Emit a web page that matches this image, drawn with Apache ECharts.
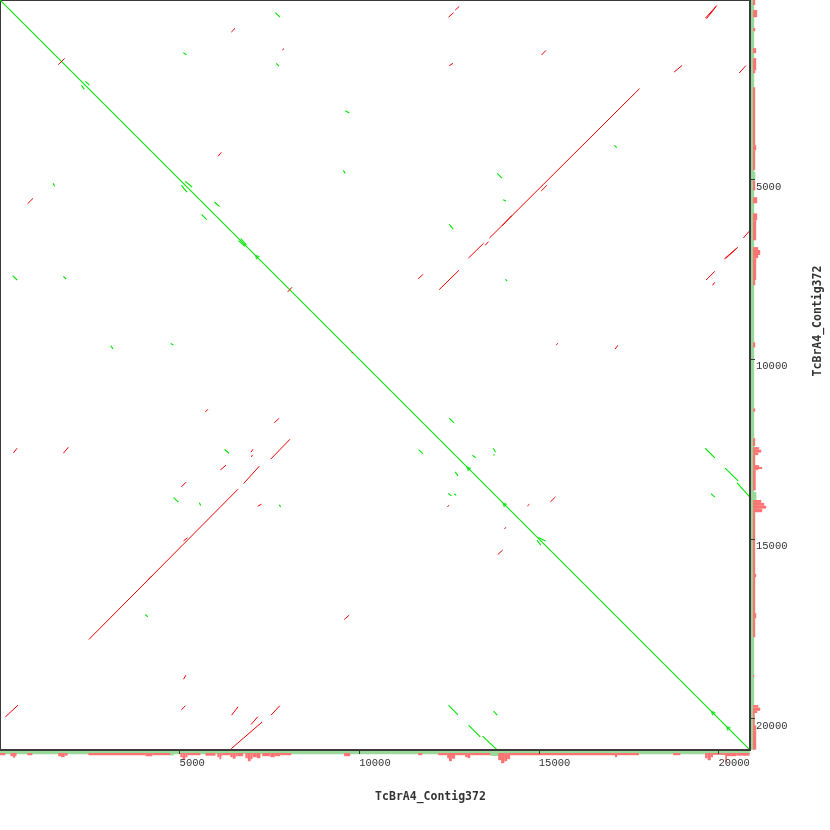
<!DOCTYPE html>
<html>
<head>
<meta charset="utf-8">
<script src="https://cdn.jsdelivr.net/npm/echarts@6/dist/echarts.min.js"></script>
<style>
html,body{margin:0;padding:0;background:#fff;}
#chart{width:830px;height:830px;}
</style>
</head>
<body>
<div id="chart"></div>
<script>
// ---- data (sequence coordinates, bp) ----
const seqName = 'TcBrA4_Contig372';
const seqLength = 20880;
const tickValues = [5000, 10000, 15000, 20000];

// forward matches [x1, y1, x2, y2]
const forwardSegments = [
  [0,0,20870,20870],
  [5104,1467,5188,1522],[1478,5104,1522,5188],
  [2377,2265,2488,2368],[2265,2377,2349,2488],
  [5160,5048,5346,5207],[5048,5160,5207,5346],
  [5967,5624,6114,5752],[5613,5967,5752,6114],
  [6640,6700,6820,6860],[6700,6640,6860,6820],
  [7664,353,7795,476],[353,7673,476,7795],
  [7692,1764,7767,1840],[1764,7692,1840,7767],
  [9613,3081,9724,3148],[3081,9621,3148,9715],
  [17099,4047,17174,4110],
  [9557,4742,9613,4826],[4751,9565,4826,9604],
  [13842,4826,13973,4957],
  [14010,5558,14085,5597],
  [12507,6245,12618,6376],
  [14074,7776,14121,7823],
  [6253,12515,6376,12618],
  [4834,13851,4965,13982],
  [5549,13999,5588,14074],
  [7773,14057,7815,14113],
  [12507,11644,12638,11775],[11653,12515,11775,12627],
  [13155,12674,13249,12749],[12674,13138,12749,13249],
  [13731,12479,13795,12582],[12479,13740,12571,13806],
  [12646,13751,12702,13787],[13740,12646,13759,12682],
  [14989,14964,15189,15059],[14950,15039,15056,15178],
  [19631,12479,19901,12749],
  [20188,13035,20550,13389],
  [20514,13434,20870,13834],
  [19798,13740,19901,13842],
  [12487,19631,12749,19901],
  [13044,20188,13369,20514],
  [13434,20494,13834,20870],
  [13740,19798,13842,19910],
  [4047,17108,4113,17174]
];

// reverse-complement matches [x1, y1, x2, y2]
const reverseSegments = [
  [6440,893,6543,790],
  [1625,1801,1801,1625],
  [6070,4353,6161,4241],
  [771,5669,921,5521],
  [12487,476,12627,353],
  [12674,281,12785,178],
  [19640,504,19958,150],[19670,520,19930,190],
  [7859,1394,7906,1355],
  [12507,1828,12609,1764],
  [15075,1533,15198,1403],
  [18768,2006,18991,1820],
  [20578,2034,20764,1828],
  [13628,6626,17803,2469],[13980,6290,14250,6000],
  [15067,5318,15225,5160],
  [13509,6829,13600,6726],
  [13044,7183,13462,6774],
  [12229,8062,12777,7525],
  [11644,7767,11775,7636],
  [20697,6626,20856,6440],
  [20168,7205,20541,6885],[20200,7200,20500,6920],
  [19659,7795,19901,7553],
  [19834,7943,19901,7859],
  [8007,8129,8129,7998],
  [9790,9830,9820,9800],
  [5716,11469,5791,11394],
  [7636,11775,7767,11644],
  [373,12609,476,12479],
  [1764,12618,1904,12451],
  [6988,12590,7044,12507],
  [6996,12721,7033,12665],
  [7534,12785,8073,12229],
  [6134,13083,6292,12952],
  [6782,13462,7219,12980],
  [5048,13556,5179,13425],
  [2474,17803,6626,13620],[4130,16130,4230,16030],
  [5110,15059,5215,14975],
  [7175,14093,7280,14038],
  [12459,14113,12498,14065],
  [14683,14085,14739,14038],
  [15323,13973,15465,13834],
  [14046,14725,14085,14678],
  [13859,15437,13993,15317],
  [15484,9604,15532,9557],
  [17127,9715,17202,9613],
  [9585,17246,9718,17127],
  [5110,18908,5176,18797],
  [150,19958,504,19631],
  [5048,19762,5160,19651],
  [6448,19910,6626,19679],
  [7545,19910,7790,19646],
  [6440,20842,7294,20104],[6990,20170,7180,19950]
];

// markers on the main diagonal (bp)
const diagonalMarks = [7136, 13027, 14029, 19830, 20251];

// coverage tracks [start, end, depth]
const bottomGreen = [
  [0,20870,2.8],[4730,4840,4],[12450,12530,4],[12530,12620,5],[12620,12670,4],
  [12950,13090,4],[13650,13870,4.5],[13870,13950,6],[13950,14120,7],[14120,14200,5],[19850,20190,3.5]
];
const bottomRed = [
  [0,150,3],[290,360,4],[360,420,5.5],[420,460,4],[760,900,3],[1620,1700,4],[1700,1800,5],[1800,1880,3.5],
  [2460,4050,3],[4050,4240,4],[4240,4740,3],[5020,5080,5],[5080,5160,8],[5160,5220,5],[5220,5580,3],
  [5720,6000,3.5],[6050,6110,5],[6110,6160,7],[6160,6190,4],[6190,6410,3],
  [6410,6480,5],[6480,6560,6.5],[6560,6610,4],[6610,6770,4],[6830,6900,6],[6900,6980,9],[6980,7030,7],
  [7030,7150,5],[7150,7250,6],[7300,7530,4],[7530,7650,5],[7650,7800,4],
  [7800,8110,3],[9580,9750,4],[11640,11760,3],[12200,12450,3],[12450,12500,6],[12500,12580,9],[12580,12670,6.5],
  [12670,12950,3],[12950,13020,5],[13020,13090,6],[13090,13650,3],[13870,13950,8],[13950,14040,11],
  [14040,14120,9],[14120,14200,7],[14200,17120,3],
  [17120,17180,5],[17180,17790,3],[18740,18940,3],[19630,19700,6],[19700,19790,8],[19790,19850,5],[19850,20190,2.5],
  [20190,20240,10],[20240,20500,4],[20500,20870,3.5]
];
const rightGreen = [
  [0,20870,2.8],[4790,5010,4],[12450,12670,5],[12950,13090,5],[13700,13920,5],
  [13920,14000,6],[14000,14200,7],[14200,14260,5.5]
];
const rightRed = [
  [0,140,3],[280,480,5],[780,870,3],[1340,1480,4],[1620,1960,4],[1960,2040,3],
  [2430,4040,3],[4040,4180,4],[4180,4740,3],[5020,5300,3],[5490,5660,5],[5940,6130,5],
  [6130,6690,4],[6880,6960,6],[6960,7100,8],[7100,7190,6],[7190,7800,4],[7800,7940,3],
  [9530,9670,3],[11370,11460,3],
  [12200,12420,3],[12450,12520,7],[12520,12600,9],[12600,12670,6],[12670,12950,3],
  [12950,13000,7],[13000,13060,10],[13060,13090,6],[13090,13650,3.5],
  [13920,14000,9],[14000,14080,12],[14080,14160,14],[14160,14260,10],[14260,17740,3],
  [15980,16070,4],[17070,17210,4],[18790,18850,2],
  [19630,19700,6],[19700,19790,8],[19790,19850,5],[19850,20190,2.5],[20190,20330,4],[20330,20870,4]
];

// ---- chart ----
const GREEN = '#00e600';
const RED = '#f00000';
const TRACK_GREEN = '#9ad89a';
const TRACK_RED = '#ff7373';
const AXIS = '#3a3a3a';
const labelFont = '"Liberation Mono","DejaVu Sans Mono",monospace';

function toLines(segs) {
  return segs.map(s => ({ coords: [[s[0], s[1]], [s[2], s[3]]] }));
}

// draws a run from depth d0 to (depth + extra) along the track
function trackRender(horizontal, d0, extra) {
  return function (params, api) {
    const s = api.value(0), e = api.value(1), d = api.value(2) + extra;
    let p0, p1;
    if (horizontal) { p0 = api.coord([s, d0]); p1 = api.coord([e, d]); }
    else { p0 = api.coord([d0, s]); p1 = api.coord([d, e]); }
    return {
      type: 'rect',
      shape: { x: Math.min(p0[0], p1[0]), y: Math.min(p0[1], p1[1]),
               width: Math.abs(p1[0] - p0[0]), height: Math.abs(p1[1] - p0[1]) },
      style: { fill: api.visual('color') }
    };
  };
}

const chart = echarts.init(document.getElementById('chart'), null, { renderer: 'canvas' });

const option = {
  animation: false,
  backgroundColor: '#fff',
  grid: [
    { left: 0, top: 0, width: 750, height: 750, show: true, borderColor: AXIS, borderWidth: 2, backgroundColor: '#fff' },
    { left: 0, top: 751, width: 750, height: 16 },
    { left: 751, top: 0, width: 16, height: 750 }
  ],
  xAxis: [
    { gridIndex: 0, type: 'value', min: 0, max: seqLength, interval: 5000, position: 'bottom', z: 10,
      axisLine: { show: true, onZero: false, lineStyle: { color: AXIS, width: 2 } },
      axisTick: { show: true, length: 4, lineStyle: { color: AXIS } },
      splitLine: { show: false },
      axisLabel: { show: true, showMinLabel: false, showMaxLabel: false, align: 'left', margin: 8,
        fontFamily: labelFont, fontSize: 10.5, color: '#333',
        formatter: v => tickValues.indexOf(v) >= 0 ? String(v) : '' } },
    { gridIndex: 1, type: 'value', min: 0, max: seqLength, show: false, axisLine: { onZero: false } },
    { gridIndex: 2, type: 'value', min: 0, max: 16, show: false, axisLine: { onZero: false } }
  ],
  yAxis: [
    { gridIndex: 0, type: 'value', min: 0, max: seqLength, interval: 5000, inverse: true, position: 'right', z: 10,
      axisLine: { show: true, onZero: false, lineStyle: { color: AXIS, width: 2 } },
      axisTick: { show: true, length: 5, lineStyle: { color: AXIS } },
      splitLine: { show: false },
      axisLabel: { show: true, showMinLabel: false, showMaxLabel: false, align: 'left', verticalAlign: 'top',
        margin: 6, padding: [2, 0, 0, 0], fontFamily: labelFont, fontSize: 10.5, color: '#333',
        formatter: v => tickValues.indexOf(v) >= 0 ? String(v) : '' } },
    { gridIndex: 1, type: 'value', min: 0, max: 16, inverse: true, show: false, axisLine: { onZero: false } },
    { gridIndex: 2, type: 'value', min: 0, max: seqLength, inverse: true, show: false, axisLine: { onZero: false } }
  ],
  series: [
    { type: 'custom', name: 'bottomGreen', xAxisIndex: 1, yAxisIndex: 1, silent: true, z: 1,
      itemStyle: { color: TRACK_GREEN }, renderItem: trackRender(true, 0, 0.4), data: bottomGreen, clip: false },
    { type: 'custom', name: 'bottomRed', xAxisIndex: 1, yAxisIndex: 1, silent: true, z: 1,
      itemStyle: { color: TRACK_RED }, renderItem: trackRender(true, 2, 1.2), data: bottomRed, clip: false },
    { type: 'custom', name: 'rightGreen', xAxisIndex: 2, yAxisIndex: 2, silent: true, z: 1,
      itemStyle: { color: TRACK_GREEN }, renderItem: trackRender(false, 0, 0.4), data: rightGreen, clip: false },
    { type: 'custom', name: 'rightRed', xAxisIndex: 2, yAxisIndex: 2, silent: true, z: 1,
      itemStyle: { color: TRACK_RED }, renderItem: trackRender(false, 2, 1.2), data: rightRed, clip: false },
    { type: 'lines', name: 'forward', coordinateSystem: 'cartesian2d', xAxisIndex: 0, yAxisIndex: 0,
      silent: true, polyline: false, lineStyle: { color: GREEN, width: 1.1, opacity: 1 },
      data: toLines(forwardSegments) },
    { type: 'lines', name: 'reverse', coordinateSystem: 'cartesian2d', xAxisIndex: 0, yAxisIndex: 0,
      silent: true, polyline: false, lineStyle: { color: RED, width: 1, opacity: 1 },
      data: toLines(reverseSegments) },
    { type: 'scatter', name: 'marks', xAxisIndex: 0, yAxisIndex: 0, silent: true,
      symbol: 'triangle', symbolSize: 5, symbolRotate: 45, itemStyle: { color: GREEN },
      data: diagonalMarks.map(v => [v, v]) }
  ],
  graphic: [
    { type: 'text', x: 430.5, y: 797, silent: true,
      style: { text: seqName, align: 'center', verticalAlign: 'middle',
        font: 'bold 11.5px "DejaVu Sans Mono"', fill: '#333' } },
    { type: 'text', x: 818, y: 321, rotation: Math.PI / 2, silent: true,
      style: { text: seqName, align: 'center', verticalAlign: 'middle',
        font: 'bold 11.5px "DejaVu Sans Mono"', fill: '#333' } }
  ]
};
chart.setOption(option);
</script>
</body>
</html>
